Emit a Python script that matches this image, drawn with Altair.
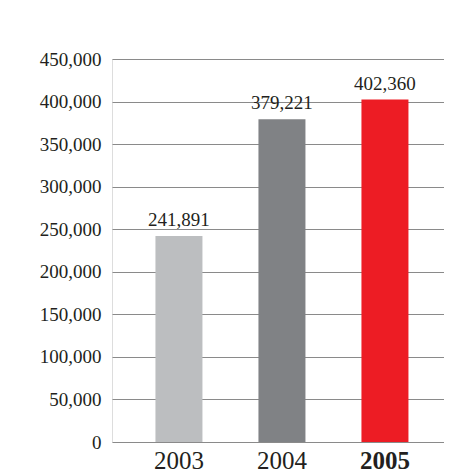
import altair as alt
import pandas as pd

years = ["2003", "2004", "2005"]
values = [241891, 379221, 402360]
colors = ["#bcbec0", "#808285", "#ed1c24"]

df = pd.DataFrame({"year": years, "value": values, "color": colors})

FONT = "Liberation Serif"

x = alt.X(
    "year:N",
    sort=years,
    title=None,
    scale=alt.Scale(paddingInner=0.5437, paddingOuter=0.3835, align=0.55),
    axis=alt.Axis(
        labelAngle=0,
        labelFont=FONT,
        labelFontSize=25,
        labelColor="#231f20",
        labelPadding=6,
        labelFontWeight={"condition": {"test": "datum.value == '2005'", "value": "bold"}, "value": "normal"},
        ticks=False,
        domain=False,
        grid=False,
    ),
)

y = alt.Y(
    "value:Q",
    title=None,
    scale=alt.Scale(domain=[0, 450000], nice=False),
    axis=alt.Axis(
        values=list(range(0, 450001, 50000)),
        format=",d",
        labelFont=FONT,
        labelFontSize=19,
        labelColor="#231f20",
        labelPadding=11,
        ticks=False,
        domain=False,
        grid=True,
        gridColor="#8a8a8a",
        gridWidth=1,
        gridOpacity=1,
    ),
)

base = alt.Chart(df).encode(x=x, y=y)

bars = base.mark_bar().encode(color=alt.Color("color:N", scale=None))

labels = base.mark_text(
    font=FONT, fontSize=19, baseline="bottom", dy=-6, color="#231f20"
).encode(
    text=alt.Text("value:Q", format=","),
)

chart = (
    (bars + labels)
    .properties(
        width=332,
        height=383,
        autosize=alt.AutoSizeParams(type="none"),
        padding={"left": 104, "top": 51, "right": 0, "bottom": 30},
    )
    .configure_view(stroke=None)
    .configure(background="white")
)

chart.save("out.html", embed_options={"renderer": "svg", "actions": False})
